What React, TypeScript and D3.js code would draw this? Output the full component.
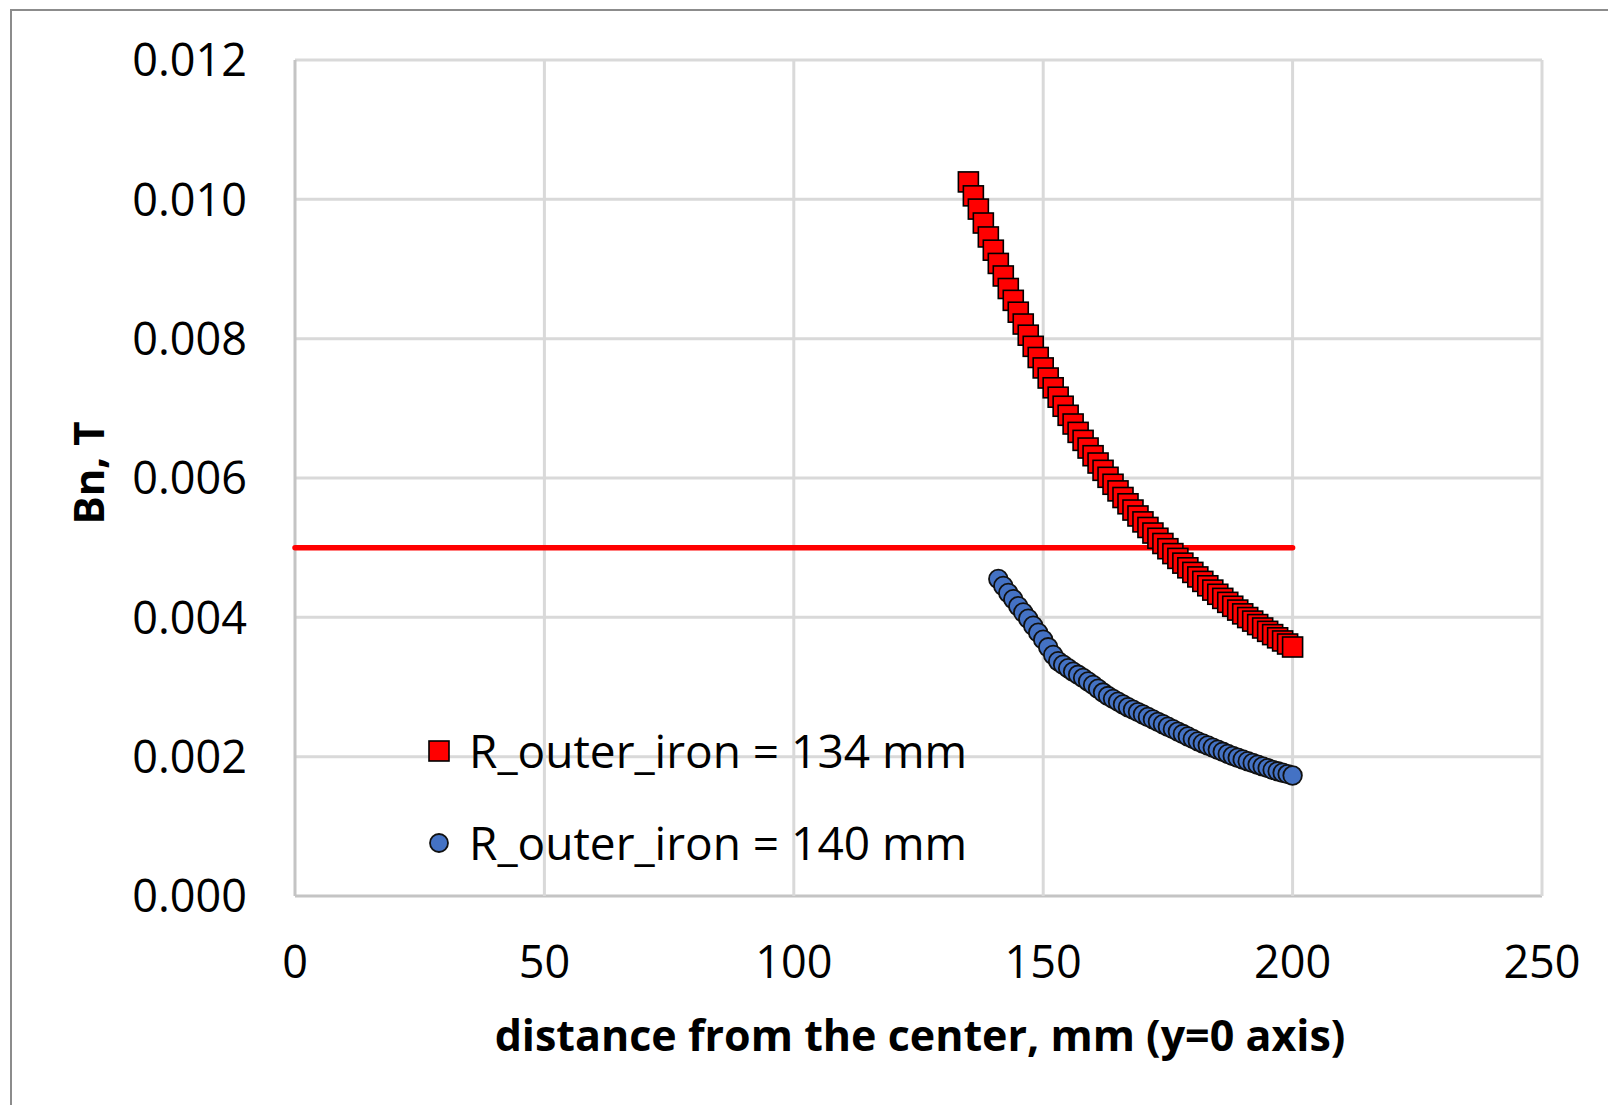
import React from "react";
import * as d3 from "d3";

const xTicks = [0, 50, 100, 150, 200, 250];
const yTicks = [0, 0.002, 0.004, 0.006, 0.008, 0.01, 0.012];

const redX = [135, 136, 137, 138, 139, 140, 141, 142, 143, 144, 145, 146, 147, 148, 149, 150,
  151, 152, 153, 154, 155, 156, 157, 158, 159, 160, 161, 162, 163, 164, 165, 166, 167, 168, 169, 170,
  171, 172, 173, 174, 175, 176, 177, 178, 179, 180, 181, 182, 183, 184, 185, 186, 187, 188, 189, 190,
  191, 192, 193, 194, 195, 196, 197, 198, 199, 200];
const redY = [10.25, 10.05, 9.86, 9.66, 9.46, 9.27, 9.08, 8.90, 8.72, 8.55, 8.38, 8.21, 8.05, 7.89, 7.73, 7.58,
  7.435, 7.295, 7.16, 7.03, 6.90, 6.775, 6.655, 6.54, 6.43, 6.32, 6.215, 6.11, 6.01, 5.91, 5.815, 5.72, 5.63, 5.54, 5.455, 5.37,
  5.29, 5.21, 5.135, 5.06, 4.985, 4.915, 4.846, 4.778, 4.711, 4.645, 4.58, 4.516, 4.453, 4.391, 4.331, 4.272, 4.215, 4.159, 4.104, 4.05,
  3.997, 3.946, 3.896, 3.847, 3.799, 3.752, 3.706, 3.661, 3.617, 3.574];

const blueX = [141, 142, 143, 144, 145, 146, 147, 148, 149, 150,
  151, 152, 153, 154, 155, 156, 157, 158, 159, 160, 161, 162, 163, 164, 165, 166, 167, 168, 169, 170,
  171, 172, 173, 174, 175, 176, 177, 178, 179, 180, 181, 182, 183, 184, 185, 186, 187, 188, 189, 190,
  191, 192, 193, 194, 195, 196, 197, 198, 199, 200];
const blueY = [4.55, 4.45, 4.35, 4.26, 4.16, 4.07, 3.98, 3.88, 3.78, 3.68,
  3.57, 3.46, 3.37, 3.32, 3.27, 3.22, 3.175, 3.13, 3.08, 3.03, 2.975, 2.92, 2.87, 2.83, 2.79, 2.75, 2.71, 2.675, 2.64, 2.605,
  2.57, 2.535, 2.50, 2.465, 2.43, 2.395, 2.36, 2.325, 2.29, 2.255, 2.22, 2.19, 2.16, 2.13, 2.10, 2.07, 2.04, 2.01, 1.985, 1.96,
  1.935, 1.91, 1.885, 1.86, 1.835, 1.81, 1.79, 1.77, 1.75, 1.73];

const limitX = [0, 200];
const limitY = [0.005, 0.005];

const legendLabels = ["R_outer_iron = 134 mm", "R_outer_iron = 140 mm"];
const xTitle = "distance from the center, mm (y=0 axis)";
const yTitle = "Bn, T";

const FONT = "'Open Sans', 'Liberation Sans', sans-serif";

export default function App() {
  const W = 1608, H = 1105;
  const left = 295, right = 1542, top = 60, bottom = 896;
  const x = d3.scaleLinear().domain([0, 250]).range([left, right]);
  const y = d3.scaleLinear().domain([0, 0.012]).range([bottom, top]);
  const fmt = d3.format(".3f");
  const line = d3.line<number>().x((d, i) => x(limitX[i])).y((d) => y(d));
  const sq = 20;
  const r = 9.3;

  return (
    <svg width={W} height={H} style={{ position: "absolute", left: 0, top: 0, background: "#fff" }}
      fontFamily={FONT}>
      <rect x={0} y={0} width={W} height={H} fill="#fff" />
      <rect x={11} y={10} width={W + 20} height={H + 20} fill="#fff" stroke="#8c8c8c" strokeWidth={2} />
      {yTicks.map((t) => (
        <line key={"gy" + t} x1={left} x2={right} y1={y(t)} y2={y(t)} stroke={t === 0 ? "#c4c4c4" : "#d9d9d9"} strokeWidth={3} />
      ))}
      {xTicks.map((t) => (
        <line key={"gx" + t} x1={x(t)} x2={x(t)} y1={top} y2={bottom} stroke={t === 0 ? "#c4c4c4" : "#d9d9d9"} strokeWidth={3} />
      ))}
      {yTicks.map((t) => (
        <text key={"ty" + t} x={247} y={y(t)} dy="0.36em" textAnchor="end" fontSize={45} fill="#000">{fmt(t)}</text>
      ))}
      {xTicks.map((t) => (
        <text key={"tx" + t} x={x(t)} y={962} dy="0.36em" textAnchor="middle" fontSize={45} fill="#000">{t}</text>
      ))}
      <path d={line(limitY) || ""} stroke="#ff0000" strokeWidth={5.5} fill="none" strokeLinecap="round" />
      {redX.map((v, i) => (
        <rect key={"r" + i} x={x(v) - sq / 2} y={y(redY[i] / 1000) - sq / 2} width={sq} height={sq}
          fill="#ff0000" stroke="#000" strokeWidth={1.6} />
      ))}
      {blueX.map((v, i) => (
        <circle key={"b" + i} cx={x(v)} cy={y(blueY[i] / 1000)} r={r}
          fill="#4472c4" stroke="#111" strokeWidth={1.8} />
      ))}
      <rect x={439 - 10} y={751 - 10} width={20} height={20} fill="#ff0000" stroke="#000" strokeWidth={1.6} />
      <text x={469} y={751} dy="0.36em" fontSize={46} fill="#000">{legendLabels[0]}</text>
      <circle cx={439} cy={843} r={9} fill="#4472c4" stroke="#111" strokeWidth={1.8} />
      <text x={469} y={843} dy="0.36em" fontSize={46} fill="#000">{legendLabels[1]}</text>
      <text x={920} y={1036} dy="0.36em" textAnchor="middle" fontSize={43} fontWeight="bold" fill="#000">{xTitle}</text>
      <text transform="translate(89,473) rotate(-90)" dy="0.36em" textAnchor="middle" fontSize={42} fontWeight="bold" fill="#000">{yTitle}</text>
    </svg>
  );
}
